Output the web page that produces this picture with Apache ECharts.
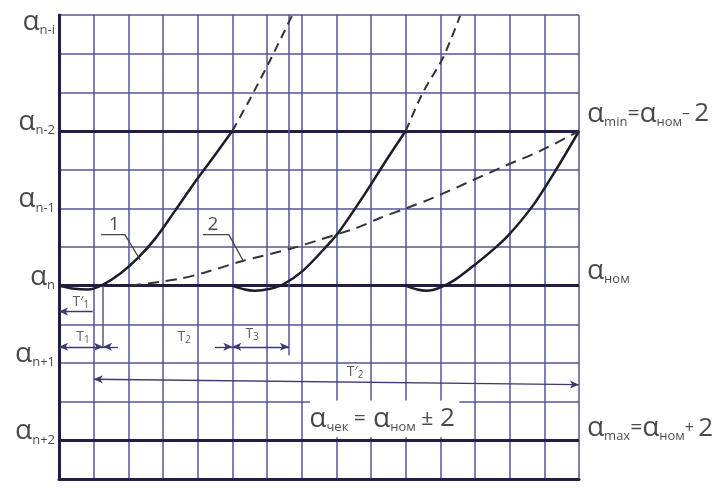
<!DOCTYPE html>
<html><head><meta charset="utf-8">
<script src="https://cdn.jsdelivr.net/npm/echarts@6/dist/echarts.min.js"></script>
<style>html,body{margin:0;padding:0;background:#fff}#c{width:716px;height:489px}</style>
</head><body><div id="c"></div><script>
// ---- data (grid units: x = columns, y = rows from bottom) ----
const xMin = 0, xMax = 15, yMin = 0, yMax = 12;
const levelLines = [9, 5, 1];                 // α_{n-2}, α_n, α_{n+2}
const leftLabels = ['n-i', 'n-2', 'n-1', 'n', 'n+1', 'n+2'];
const leftLabelY = [11.59, 9, 7, 5, 3, 1];
const tooth1 = [[0,5.0],[0.46,4.92],[0.84,4.90],[1.27,5.03],[1.76,5.31],[2.28,5.72],[2.77,6.21],[3.35,6.94],[3.98,7.75],[4.5,8.38],[5.0,9.0]];
const tooth2 = [[5,5.0],[5.36,4.90],[5.65,4.87],[6.09,4.92],[6.46,5.03],[7.04,5.39],[7.73,6.03],[8.10,6.42],[8.88,7.45],[9.43,8.23],[10,9.0]];
const tooth3 = [[10,5.0],[10.33,4.90],[10.61,4.87],[10.99,4.95],[11.42,5.15],[11.94,5.50],[12.43,5.86],[12.92,6.26],[13.67,7.07],[14.36,8.03],[15,9.0]];
const cont1 = [[5,9.0],[5.51,9.83],[6.09,10.83],[6.72,11.98]];
const cont2 = [[10,9.0],[10.5,10.0],[11.08,10.9],[11.57,11.98]];
const curve2 = [[2.05,5.0],[2.91,5.10],[3.49,5.18],[4.21,5.34],[5.22,5.62],[6.66,5.95],[7.53,6.19],[8.60,6.50],[9.26,6.75],[10.04,7.01],[10.79,7.27],[11.77,7.66],[12.92,8.12],[13.87,8.48],[15,9.0]];
const leader1 = [[1.21,6.32],[1.90,6.32],[2.34,5.67]];
const leader2 = [[4.15,6.32],[4.90,6.32],[5.31,5.65]];
const curveTags = [{t:'1', p:[1.59,6.57]}, {t:'2', p:[4.44,6.57]}];
// dimension lines: [x1,y1,x2,y2, arrowStart, arrowEnd]
const dims = [
  [0,4.33,0.97,4.33,1,0],     // T'1
  [0,3.42,1.27,3.42,1,1],     // T1
  [1.27,3.42,1.70,3.42,1,0],  // T2 (left part)
  [4.5,3.42,5.0,3.42,0,1],    // T2 (right part)
  [5.0,3.42,6.63,3.42,1,1],   // T3
  [1.0,2.58,15,2.44,1,1]      // T'2
];
const extraV = [[1.27,5.0,1.27,3.42],[6.63,12,6.63,3.2]];
const dimTags = [{m:'T′', s:'1', p:[0.63,4.58]}, {m:'T', s:'1', p:[0.69,3.68]}, {m:'T', s:'2', p:[3.61,3.66]}, {m:'T', s:'3', p:[5.57,3.74]}, {m:'T′', s:'2', p:[8.54,2.76]}];
const rightLabelY = [9.21, 5.15, 1.08];
const formulaBox = [[7.24,2.03],[11.55,1.08]];
const formulaPos = [9.32, 1.55];

// ---- styles ----
const FONT = '"Open Sans","Noto Sans","DejaVu Sans",sans-serif';
const GRID_C = '#55559a', THICK_C = '#1f1f45', INK = '#1c1c2c', TXT = '#1a1a1a';
const alphaRich = {
  a: {fontFamily: FONT, fontSize: 28, color: TXT, lineHeight: 30},
  s: {fontFamily: FONT, fontSize: 13, color: TXT, lineHeight: 30, verticalAlign: 'bottom'},
  e: {fontFamily: FONT, fontSize: 21, color: TXT, lineHeight: 30},
  m: {fontFamily: FONT, fontSize: 16, color: TXT, lineHeight: 30},
  pm: {fontFamily: FONT, fontSize: 21, color: TXT, lineHeight: 30},
  d: {fontFamily: FONT, fontSize: 26, color: TXT, lineHeight: 30}
};

const chart = echarts.init(document.getElementById('c'), null, {renderer: 'canvas'});

function seg(x1,y1,x2,y2,s1,s2){
  return [{coord:[x1,y1], symbol: s1 ? 'arrow' : 'none'}, {coord:[x2,y2], symbol: s2 ? 'arrow' : 'none'}];
}

const rightTexts = [
  '{a|α}{s|min}{e|=}{a|α}{s|ном}{m|– }{d|2}',
  '{a|α}{s|ном}',
  '{a|α}{s|max}{e|=}{a|α}{s|ном}{m|+ }{d|2}'
];

const option = {
  animation: false,
  backgroundColor: '#fff',
  grid: {left: 59, right: 137, top: 15, bottom: 10, containLabel: false},
  xAxis: {type: 'value', min: xMin, max: xMax, interval: 1,
    axisLine: {show: true, onZero: false, lineStyle: {color: THICK_C, width: 3}},
    axisTick: {show: false}, axisLabel: {show: false},
    splitLine: {show: true, lineStyle: {color: GRID_C, width: 1.5}}},
  yAxis: {type: 'value', min: yMin, max: yMax, interval: 1,
    axisLine: {show: true, onZero: false, lineStyle: {color: THICK_C, width: 3}},
    axisTick: {show: false}, axisLabel: {show: false},
    splitLine: {show: true, lineStyle: {color: GRID_C, width: 1.5}}},
  series: [
    {type: 'line', data: [], silent: true, z: 3,
      markLine: {silent: true, symbol: 'none', animation: false, label: {show: false},
        lineStyle: {color: THICK_C, width: 3, type: 'solid'},
        data: levelLines.map(y => [{coord:[xMin,y]}, {coord:[xMax,y]}])}},
    {type: 'line', data: [], silent: true, z: 3,
      markLine: {silent: true, symbol: 'none', animation: false, label: {show: false},
        lineStyle: {color: GRID_C, width: 1.5, type: 'solid'},
        data: extraV.map(v => [{coord:[v[0],v[1]]}, {coord:[v[2],v[3]]}])}},
    {type: 'line', data: [], silent: true, z: 4,
      markLine: {silent: true, symbolSize: [6, 9], animation: false, label: {show: false},
        lineStyle: {color: '#3a3a70', width: 1.3, type: 'solid'},
        data: dims.map(d => seg(d[0],d[1],d[2],d[3],d[4],d[5]))}},
    {type: 'line', data: [], silent: true, z: 2,
      markArea: {silent: true, itemStyle: {color: '#ffffff', opacity: 1},
        data: [[{coord: formulaBox[0]}, {coord: formulaBox[1]}]]}},
    {type: 'line', data: tooth1, smooth: 0.3, symbol: 'none', lineStyle: {color: INK, width: 2.5}, z: 5},
    {type: 'line', data: tooth2, smooth: 0.3, symbol: 'none', lineStyle: {color: INK, width: 2.5}, z: 5},
    {type: 'line', data: tooth3, smooth: 0.3, symbol: 'none', lineStyle: {color: INK, width: 2.5}, z: 5},
    {type: 'line', data: cont1, smooth: 0.3, symbol: 'none', lineStyle: {color: '#333', width: 2, type: [9, 6]}, z: 5},
    {type: 'line', data: cont2, smooth: 0.3, symbol: 'none', lineStyle: {color: '#333', width: 2, type: [9, 6]}, z: 5},
    {type: 'line', data: curve2, smooth: 0.3, symbol: 'none', lineStyle: {color: '#333', width: 2, type: [11, 7]}, z: 5},
    {type: 'line', data: leader1, symbol: 'none', lineStyle: {color: '#444', width: 1.3}, z: 5},
    {type: 'line', data: leader2, symbol: 'none', lineStyle: {color: '#444', width: 1.3}, z: 5},
    // left labels
    {type: 'scatter', symbolSize: 0, silent: true, z: 10, clip: false,
      data: leftLabelY.map((y,i) => ({value: [xMin, y], label: {formatter: '{a|α}{s|' + leftLabels[i] + '}'}})),
      label: {show: true, position: 'left', distance: 4, offset: [0, -9], rich: alphaRich}},
    // right labels
    {type: 'scatter', symbolSize: 0, silent: true, z: 10, clip: false,
      data: rightLabelY.map((y,i) => ({value: [xMax, y], label: {formatter: rightTexts[i]}})),
      label: {show: true, position: 'right', distance: 8, offset: [0, -9], rich: alphaRich}},
    // formula
    {type: 'scatter', symbolSize: 0, silent: true, z: 10,
      data: [{value: formulaPos, label: {formatter: '{a|α}{s|чек}{e| =}{a| α}{s|ном}{pm| ±}{d| 2}'}}],
      label: {show: true, position: 'inside', rich: alphaRich}},
    // curve tags 1, 2
    {type: 'scatter', symbolSize: 0, silent: true, z: 10,
      data: curveTags.map(c => ({value: c.p, label: {formatter: c.t}})),
      label: {show: true, position: 'inside', fontFamily: FONT, fontSize: 19, color: TXT}},
    // T tags
    {type: 'scatter', symbolSize: 0, silent: true, z: 10,
      data: dimTags.map(c => ({value: c.p, label: {formatter: '{t|' + c.m + '}{s|' + c.s + '}'}})),
      label: {show: true, position: 'inside',
        rich: {t: {fontFamily: FONT, fontSize: 14, color: '#333', lineHeight: 16},
               s: {fontFamily: FONT, fontSize: 10, color: '#333', lineHeight: 16, verticalAlign: 'bottom'}}}}
  ]
};
chart.setOption(option);
</script></body></html>
